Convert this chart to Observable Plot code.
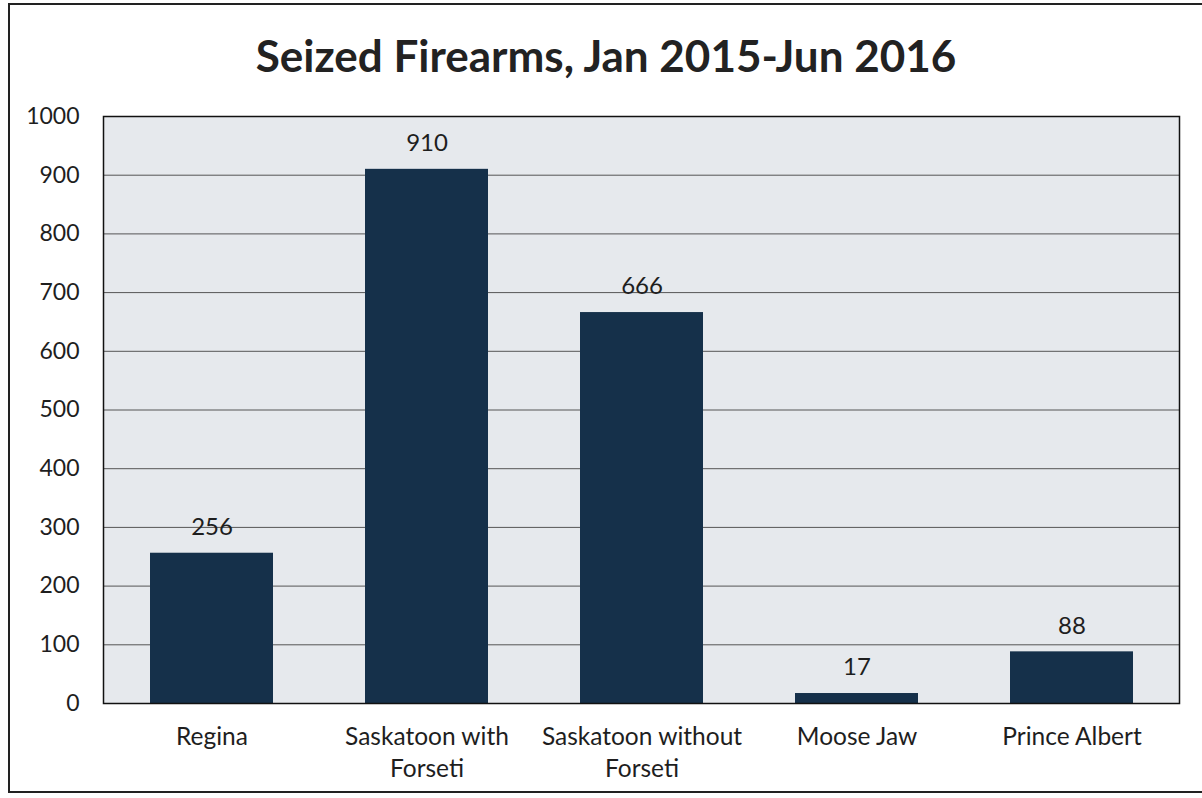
<!DOCTYPE html>
<html>
<head>
<meta charset="utf-8">
<script src="https://cdn.jsdelivr.net/npm/d3@7"></script>
<script src="https://cdn.jsdelivr.net/npm/@observablehq/plot@0.6"></script>
<style>
  html, body { margin: 0; padding: 0; background: #fff; }
  #wrap { position: relative; width: 1202px; height: 798px; overflow: hidden; font-family: Lato, "Open Sans", sans-serif; }
  #border { position: absolute; left: 8px; top: 3px; width: 1300px; height: 790px; border: 2px solid #222; box-sizing: border-box; }
  #title { position: absolute; left: 0; top: 0; width: 1212px; height: 100px; text-align: center; font-weight: bold; font-size: 44px; line-height: 1; padding-top: 33px; box-sizing: border-box; color: #222; }
  #chart { position: absolute; left: 0; top: 100px; }
</style>
</head>
<body>
<div id="wrap">
  <div id="border"></div>
  <div id="title">Seized Firearms, Jan 2015-Jun 2016</div>
  <div id="chart"></div>
</div>
<script>
const categories = ["Regina", "Saskatoon with Forseti", "Saskatoon without Forseti", "Moose Jaw", "Prince Albert"];
const tickLabels = ["Regina", "Saskatoon with\nForseti", "Saskatoon without\nForseti", "Moose Jaw", "Prince Albert"];
const values = [256, 910, 666, 17, 88];
const yTicks = [0, 100, 200, 300, 400, 500, 600, 700, 800, 900, 1000];

const data = categories.map((c, i) => ({category: c, value: values[i]}));
const labelOf = new Map(categories.map((c, i) => [c, tickLabels[i]]));

const chart = Plot.plot({
  width: 1202,
  height: 698,
  marginLeft: 103,
  marginRight: 23,
  marginTop: 16,
  marginBottom: 95,
  style: {fontFamily: "Lato, 'Open Sans', sans-serif", color: "#1e1e1e", background: "transparent"},
  x: {domain: categories, paddingInner: 0.43, paddingOuter: 0.215, label: null},
  y: {domain: [0, 1000], label: null},
  marks: [
    Plot.frame({fill: "#e6e9ed", stroke: null}),
    Plot.gridY(yTicks.slice(1, -1), {stroke: "#555", strokeOpacity: 1, strokeWidth: 1}),
    Plot.barY(data, {x: "category", y: "value", fill: "#15304a"}),
    Plot.text(data, {x: "category", y: "value", text: d => String(d.value), dy: -26, fontSize: 24, fill: "#1e1e1e"}),
    Plot.axisY({ticks: yTicks, tickSize: 0, tickPadding: 24, fontSize: 23, tickFormat: d => String(d)}),
    Plot.axisX({tickSize: 0, tickPadding: 19, fontSize: 24.5, lineHeight: 1.3, lineAnchor: "top", tickFormat: d => labelOf.get(d)}),
    Plot.frame({stroke: "#111", strokeWidth: 1.5})
  ]
});
document.getElementById("chart").appendChild(chart);
</script>
</body>
</html>
